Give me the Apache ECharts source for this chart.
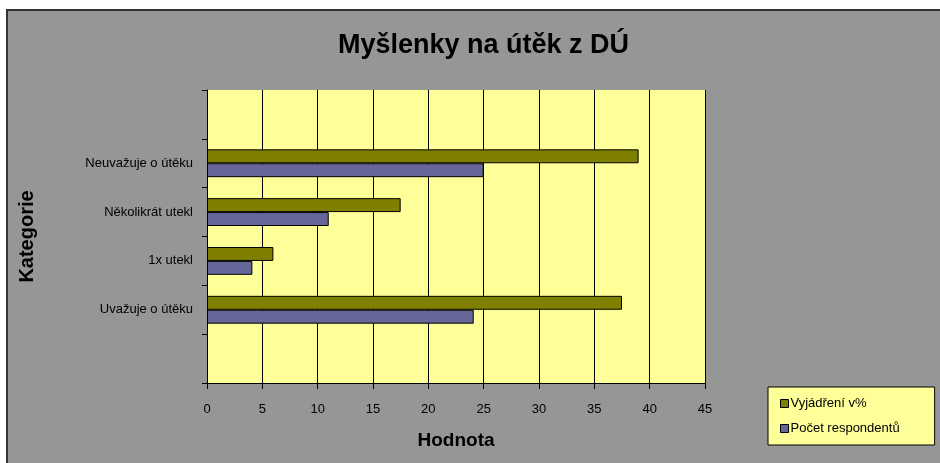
<!DOCTYPE html>
<html>
<head>
<meta charset="utf-8">
<script src="https://cdn.jsdelivr.net/npm/echarts@6/dist/echarts.min.js"></script>
<style>
    html, body { margin: 0; padding: 0; background: #fff; }
    #content { width: 940px; height: 463px; }
</style>
</head>
<body>
<div id="content"></div>
<script>
    // categories bottom -> top, empty slots at both ends like the original
    var categories = ['', 'Uvažuje o útěku', '1x utekl', 'Několikrát utekl', 'Neuvažuje o útěku', ''];
    var percentValues = [null, 37.5, 6, 17.5, 39, null];
    var countValues = [null, 24.1, 4.1, 11, 25, null];
    var xTicks = [0, 5, 10, 15, 20, 25, 30, 35, 40, 45];

    var font = 'Liberation Sans, Arial, sans-serif';
    var element = document.getElementById('content');
    var myChart = echarts.init(element);

    var option = {
        animation: false,
        backgroundColor: '#ffffff',
        graphic: [{
            type: 'rect',
            z: -10,
            shape: { x: 7, y: 10, width: 960, height: 480 },
            style: { fill: '#969696', stroke: '#333333', lineWidth: 2 }
        }],
        title: {
            text: 'Myšlenky na útěk z DÚ',
            left: 333,
            top: 27,
            textStyle: { fontFamily: font, fontSize: 27, fontWeight: 'bold', color: '#000' }
        },
        legend: {
            orient: 'vertical',
            left: 768,
            top: 387,
            backgroundColor: '#ffff99',
            borderColor: '#000',
            borderWidth: 1,
            padding: [10, 35, 10, 12],
            itemGap: 12,
            itemWidth: 8,
            itemHeight: 8,
            icon: 'rect',
            itemStyle: { borderColor: '#000', borderWidth: 1 },
            data: ['Vyjádření v%', 'Počet respondentů'],
            textStyle: { fontFamily: font, fontSize: 13, color: '#000', padding: [0, 0, 0, -3] }
        },
        grid: {
            left: 207,
            right: 235,
            top: 90,
            bottom: 80,
            show: true,
            backgroundColor: '#ffff99',
            borderWidth: 0
        },
        xAxis: {
            type: 'value',
            min: 0,
            max: 45,
            interval: 5,
            name: 'Hodnota',
            nameLocation: 'middle',
            nameGap: 48,
            nameTextStyle: { fontFamily: font, fontSize: 19, fontWeight: 'bold', color: '#000' },
            axisLine: { show: true, lineStyle: { color: '#000', width: 1 } },
            axisTick: { show: true, length: 6, lineStyle: { color: '#000' } },
            axisLabel: {
                margin: 20,
                fontFamily: font,
                fontSize: 13,
                color: '#000',
                formatter: function(v) {
                    return xTicks.indexOf(v) >= 0 ? String(v) : '';
                }
            },
            splitLine: { show: true, lineStyle: { color: '#000', width: 1 } }
        },
        yAxis: {
            type: 'category',
            data: categories,
            name: 'Kategorie',
            nameLocation: 'middle',
            nameGap: 170,
            nameRotate: 90,
            nameTextStyle: { fontFamily: font, fontSize: 20, fontWeight: 'bold', color: '#000' },
            axisLine: { show: true, lineStyle: { color: '#000', width: 1 } },
            axisTick: { show: true, length: 5, lineStyle: { color: '#000' } },
            axisLabel: { margin: 14, fontFamily: font, fontSize: 13, color: '#000' },
            splitLine: { show: false }
        },
        series: [{
            name: 'Vyjádření v%',
            type: 'bar',
            data: percentValues,
            barGap: '0%',
            barCategoryGap: '43%',
            itemStyle: { color: '#808000', borderColor: '#000', borderWidth: 1 }
        }, {
            name: 'Počet respondentů',
            type: 'bar',
            data: countValues,
            itemStyle: { color: '#666699', borderColor: '#000', borderWidth: 1 }
        }]
    };
    myChart.setOption(option);
</script>
</body>
</html>
